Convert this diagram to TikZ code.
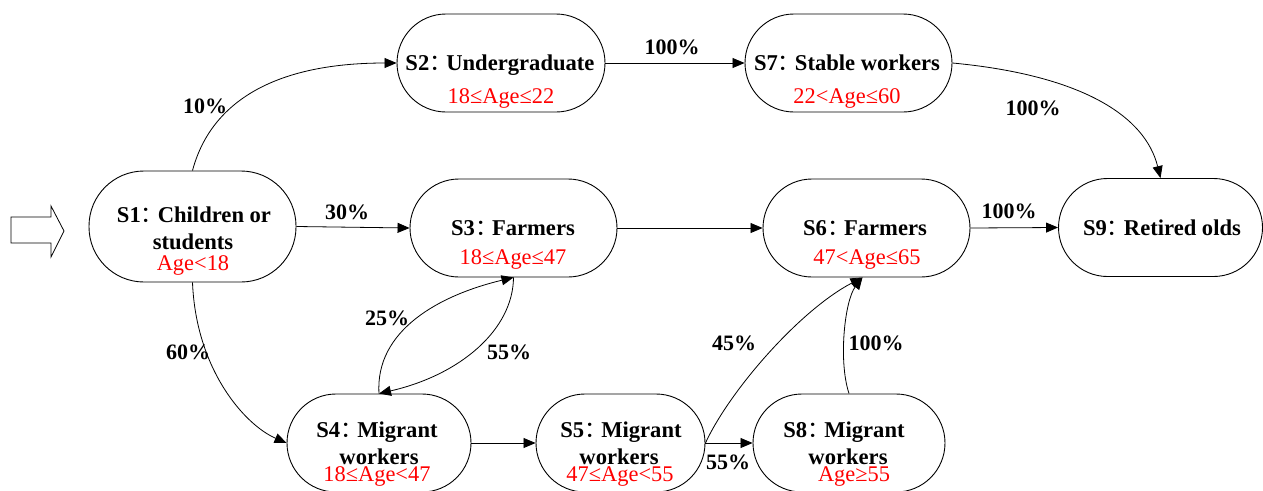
\documentclass[tikz,border=0pt]{standalone}
\usepackage{fontspec}
\setmainfont{Liberation Serif}
\newfontfamily\cjk{Noto Sans CJK SC}
\usetikzlibrary{arrows.meta}
\newcommand\fcol{\makebox[17pt][l]{\cjk\mdseries ：}}
\begin{document}
\begin{tikzpicture}[x=1pt,y=-1pt,
  box/.style={draw, line width=0.9pt, inner sep=0pt, minimum height=98pt, rounded corners=49pt},
  sttext/.style={font=\fontsize{22.6}{24}\selectfont\bfseries, anchor=base, inner sep=0pt},
  age/.style={font=\fontsize{22.4}{24}\selectfont, text=red, anchor=base, inner sep=0pt},
  pct/.style={font=\fontsize{22}{24}\selectfont\bfseries, anchor=base, inner sep=0pt},
  conn/.style={line width=0.8pt, -{Triangle[length=12pt,width=10pt]}}]
\path[use as bounding box, clip] (0,0) rectangle (1263,490);

% boxes
\node[box, minimum width=207pt, minimum height=111pt, rounded corners=55pt] (s1) at (192.5,226.5) {};
\node[box, minimum width=208pt] (s2) at (501,63) {};
\node[box, minimum width=207pt] (s7) at (848.5,63) {};
\node[box, minimum width=207pt] (s3) at (513.5,228) {};
\node[box, minimum width=207pt] (s6) at (866.5,228) {};
\node[box, minimum width=204pt] (s9) at (1160.5,227.5) {};
\node[box, minimum width=184pt] (s4) at (379,443) {};
\node[box, minimum width=169pt] (s5) at (620.5,443) {};
\node[box, minimum width=192pt] (s8) at (849,443) {};

% texts
\node[sttext] (t1a) at (194,222) {S1\fcol Children or};
\node[sttext] (t1b) at (193,249) {students};
\node[age]  (t1c) at (193,270) {Age<18};
\node[sttext] (t2a) at (500,70) {S2\fcol Undergraduate};
\node[age]  (t2b) at (501,103) {18≤Age≤22};
\node[sttext] (t7a) at (847,70) {S7\fcol Stable workers};
\node[age]  (t7b) at (847,103) {22<Age≤60};
\node[sttext] (t3a) at (513,235) {S3\fcol Farmers};
\node[age]  (t3b) at (513,264) {18≤Age≤47};
\node[sttext] (t6a) at (865,235) {S6\fcol Farmers};
\node[age]  (t6b) at (867,264) {47<Age≤65};
\node[sttext] (t9a) at (1162,235) {S9\fcol Retired olds};
\node[sttext] (t4a) at (377,437) {S4\fcol Migrant};
\node[sttext] (t4b) at (379,464) {workers};
\node[age]  (t4c) at (377,481) {18≤Age<47};
\node[sttext] (t5a) at (621,437) {S5\fcol Migrant};
\node[sttext] (t5b) at (619,464) {workers};
\node[age]  (t5c) at (620,481) {47≤Age<55};
\node[sttext] (t8a) at (844,437) {S8\fcol Migrant};
\node[sttext] (t8b) at (848,464) {workers};
\node[age]  (t8c) at (854,481) {Age≥55};

% entry arrow
\draw[line width=0.8pt] (11,217) -- (51,217) -- (51,206) -- (64,231) -- (51,257) -- (51,243) -- (11,243) -- cycle;

% connectors
\draw[conn] (s1.north) .. controls (210,105) and (270,63) .. (s2.west);
\draw[conn] (s1.east) -- (s3.west);
\draw[conn] (s1.south) .. controls (196,370) and (245,425) .. (s4.west);
\draw[conn] (s2.east) -- (s7.west);
\draw[conn] (s7.east) .. controls (1080,75) and (1145,115) .. (s9.north);
\draw[conn] (s3.east) -- (s6.west);
\draw[conn] (s6.east) -- (s9.west);
\draw[conn] (s4.north) .. controls (375,330) and (440,295) .. (s3.south);
\draw[conn] (s3.south) .. controls (513,330) and (460,375) .. (s4.north);
\draw[conn] (s4.east) -- (s5.west);
\draw[conn] (s5.east) -- (s8.west);
\draw[conn] (s5.east) .. controls (730,390) and (800,310) .. ([xshift=-4pt]s6.south);
\draw[conn] (s8.north) .. controls (838,360) and (845,300) .. ([xshift=-4pt]s6.south);

% labels
\node[pct] (p10)  at (205,113) {10\%};
\node[pct] (p30)  at (347,219) {30\%};
\node[pct] (p60)  at (188,359) {60\%};
\node[pct] (p100a) at (672,54) {100\%};
\node[pct] (p100b) at (1033,115) {100\%};
\node[pct] (p100c) at (1009,218) {100\%};
\node[pct] (p25)  at (387,325) {25\%};
\node[pct] (p55a) at (509,359) {55\%};
\node[pct] (p45)  at (734,350) {45\%};
\node[pct] (p100d) at (876,350) {100\%};
\node[pct] (p55b) at (728,469) {55\%};
\end{tikzpicture}
\end{document}
